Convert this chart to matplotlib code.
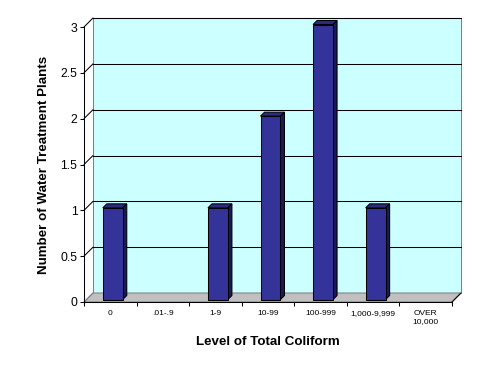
import matplotlib
matplotlib.use('Agg')
import matplotlib.pyplot as plt
from matplotlib.patches import Polygon, Rectangle, ConnectionPatch
from matplotlib.transforms import ScaledTranslation, IdentityTransform

categories = ["0", ".01-.9", "1-9", "10-99", "100-999", "1,000-9,999", "OVER\n10,000"]
values = [1, 0, 1, 2, 3, 1, 0]
yticks = [0, 0.5, 1, 1.5, 2, 2.5, 3]
ytick_labels = ["0", "0.5", "1", "1.5", "2", "2.5", "3"]
x_title = "Level of Total Coliform"
y_title = "Number of Water Treatment Plants"

plt.rcParams['font.family'] = ['Liberation Sans', 'DejaVu Sans']

DPI = 100
W, H = 491, 374
fig = plt.figure(figsize=(W / DPI, H / DPI), dpi=DPI)
fig.patch.set_facecolor('white')
ax = fig.add_axes([84 / W, 72 / H, 368 / W, 275 / H])
n = len(categories)
ymax = yticks[-1]
ax.set_xlim(0, n)
ax.set_ylim(0, ymax)
ax.patch.set_visible(False)
for s in ['top', 'right']:
    ax.spines[s].set_visible(False)
for s in ['left', 'bottom']:
    ax.spines[s].set_linewidth(0.75)
    ax.spines[s].set_zorder(6)


def depth(d):
    return ax.transData + ScaledTranslation(d / DPI, d / DPI, fig.dpi_scale_trans)


DEPTH = 9
back = depth(DEPTH)


def poly3d(pts, **kw):
    disp = [depth(d).transform((x, y)) for x, y, d in pts]
    p = Polygon(disp, closed=True, transform=IdentityTransform(), clip_on=False, **kw)
    ax.add_artist(p)
    return p


# back wall
wall = Rectangle((0, 0), n, ymax, transform=back, facecolor='#CCFFFF',
                 edgecolor='#808080', lw=0.75, clip_on=False, zorder=0)
ax.add_patch(wall)

# floor
poly3d([(0, 0, 0), (n, 0, 0), (n, 0, DEPTH), (0, 0, DEPTH)],
       facecolor='#C0C0C0', edgecolor='#808080', lw=0.75, zorder=1)
ax.add_artist(ConnectionPatch(xyA=(n, 0), coordsA=ax.transData, xyB=(n, 0), coordsB=back,
                              color='black', lw=0.75, zorder=2))

# gridlines on wall + diagonals on side
for y in yticks[1:]:
    ax.plot([0, n], [y, y], transform=back, color='black', lw=0.75, clip_on=False, zorder=1.5)
for y in yticks:
    ax.add_artist(ConnectionPatch(xyA=(0, y), coordsA=ax.transData, xyB=(0, y), coordsB=back,
                                  color='black' if y > 0 else '#808080', lw=0.75, zorder=2))

# bars
BW = 0.38
D0, D1 = 2.5, 6.5
xs = [i + 0.5 for i, v in enumerate(values) if v > 0]
vs = [v for v in values if v > 0]
ax.bar(xs, vs, width=BW, transform=depth(D0), color='#333399', edgecolor='black',
       lw=0.75, clip_on=False, zorder=4)
for x, v in zip(xs, vs):
    l, r = x - BW / 2, x + BW / 2
    poly3d([(l, v, D0), (r, v, D0), (r, v, D1), (l, v, D1)],
           facecolor='#2B2B80', edgecolor='black', lw=0.75, zorder=3.5)
    poly3d([(r, 0, D0), (r, v, D0), (r, v, D1), (r, 0, D1)],
           facecolor='#1A1A59', edgecolor='black', lw=0.75, zorder=3.5)

# ticks
ax.set_yticks(yticks, ytick_labels)
ax.tick_params(axis='y', direction='out', length=2.9, width=0.75, pad=1.8, labelsize=8.8)
ax.set_xticks([i + 0.5 for i in range(n)], categories)
ax.set_xticks(range(n + 1), minor=True)
ax.tick_params(axis='x', which='major', length=0, pad=6.0, labelsize=6.0)
ax.tick_params(axis='x', which='minor', direction='out', length=2.9, width=0.75)

ax.set_xlabel(x_title, fontsize=9.6, fontweight='bold', va='center')
ax.xaxis.set_label_coords(0.5, -(342 - 302) / 275)
ax.set_ylabel(y_title, fontsize=9.6, fontweight='bold', va='center')
ax.yaxis.set_label_coords((44 - 84) / 368, 0.5)

fig.savefig('out.png', dpi=DPI, facecolor='white')
